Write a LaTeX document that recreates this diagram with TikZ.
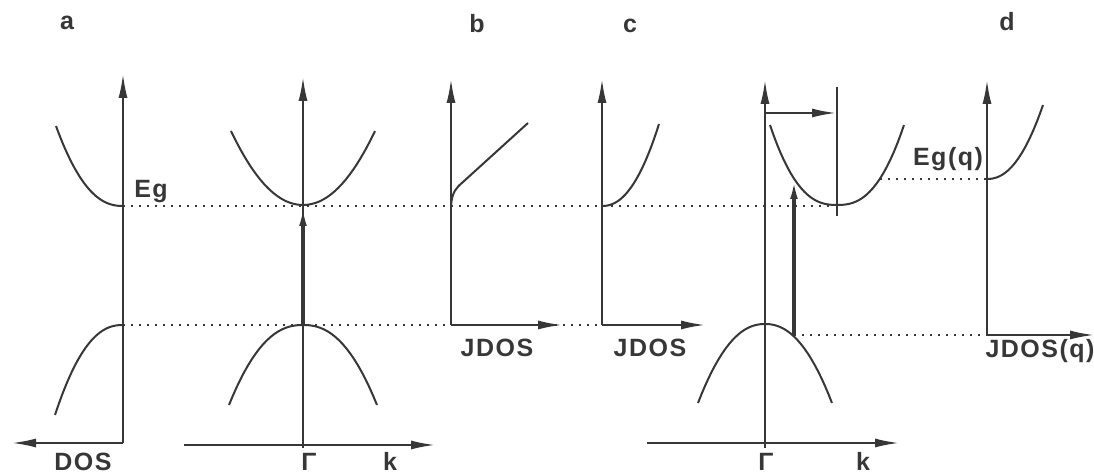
\documentclass[tikz,border=0pt]{standalone}
\usepackage{fontspec}
\setmainfont{Liberation Sans}
\usetikzlibrary{arrows.meta}
\definecolor{ink}{RGB}{55,55,55}
\tikzset{
  axis/.style={draw=ink,line width=1pt,-{Latex[length=12pt,width=4.5pt]}},
  band/.style={draw=ink,line width=1pt},
  level/.style={draw=ink,line width=0.8pt,dash pattern=on 1pt off 3pt},
  trans/.style={draw=ink,line width=1.6pt,-{Latex[length=10pt,width=3.8pt]}},
  lab/.style={text=ink,inner sep=0pt,anchor=base,
    font=\bfseries\fontsize{12.5}{14}\selectfont\addfontfeature{LetterSpace=6}},
}
\begin{document}
\begin{tikzpicture}[x=0.5pt,y=-0.5pt]
    \useasboundingbox (0,0) rectangle (1094,474);
    % energy levels
    \coordinate (EgL) at (123,206); \coordinate (EgR) at (830,206);
    \coordinate (EvL) at (123,325); \coordinate (EvR) at (602,325);
    \draw[level] (EgL)--(EgR); \draw[level] (EvL)--(EvR);
    % a: DOS and bands
    \coordinate (aO) at (123,443); \coordinate (aE) at (123,74); \coordinate (aD) at (12,443);
    \draw[axis] (aO)--(aE); \draw[axis] (aO)--(aD);
    \draw[band] plot[variable=\t,domain=0.001:1,samples=30] ({123-67*\t},{206-80*\t^2.3});
    \draw[band] plot[variable=\t,domain=0.001:1,samples=30] ({123-68*\t},{325+90*\t^2.3});
    \coordinate (kB) at (303,448); \coordinate (kT) at (303,77);
    \coordinate (kL) at (184,445); \coordinate (kR) at (435,445);
    \draw[axis] (kB)--(kT); \draw[axis] (kL)--(kR);
    % b and c: JDOS
    \coordinate (bO) at (451,325); \coordinate (bT) at (451,79); \coordinate (bR) at (562,325);
    \draw[axis] (bO)--(bT); \draw[axis] (bO)--(bR);
    \draw[band] (451,206) .. controls (452,192) and (456,188) .. (463,182) -- (528,123);
    \coordinate (cO) at (602,325); \coordinate (cT) at (602,79); \coordinate (cR) at (705,325);
    \draw[axis] (cO)--(cT); \draw[axis] (cO)--(cR);
    \draw[band] plot[variable=\t,domain=0.001:1,samples=30] ({602+57*\t},{206-82*\t^2.2});
    % c: shifted bands
    \coordinate (qB) at (765,448); \coordinate (qT) at (765,80);
    \coordinate (qL) at (647,443); \coordinate (qR) at (899,443);
    \draw[axis] (qB)--(qT); \draw[axis] (qL)--(qR);
    \coordinate (sT) at (837,87); \coordinate (sB) at (837,216);
    \draw[band] (sT)--(sB);
    \coordinate (hL) at (765,113); \coordinate (hR) at (836,113);
    \draw[axis] (hL)--(hR);
    \foreach \cx/\cy/\w/\h/\p in {303/205/72/-74/2.05, 303/325/74/80/2.3, 837/205/67/-80/2.5, 765/324/67/79/2.2}
        \draw[band] plot[variable=\t,domain=-1:1,samples=40] ({\cx+\w*\t},{\cy+\h*abs(\t)^\p});
    % transitions
    \coordinate (vA) at (303,325); \coordinate (cA) at (303,206);
    \draw[trans] (vA)--(cA);
    \coordinate (vQ) at (794,335); \coordinate (cQ) at (794,179);
    \draw[trans] (vQ)--(cQ);
    % d: JDOS(q)
    \coordinate (dO) at (987,335); \coordinate (dT) at (987,80); \coordinate (dR) at (1094,335);
    \coordinate (gQ) at (880,179); \coordinate (gD) at (987,179);
    \draw[level] (gQ)--(gD); \draw[level] (vQ)--(dO);
    \draw[axis] (dO)--(dT); \draw[axis] (dO)--(dR);
    \draw[band] plot[variable=\t,domain=0.001:1,samples=30] ({987+56*\t},{179-74*\t^2.2});
    % labels
    \node[lab] (la) at (67,30) {a};
    \node[lab] (lb) at (477,33) {b};
    \node[lab] (lc) at (630,33) {c};
    \node[lab] (ld) at (1007,31) {d};
    \node[lab] (eg) at (151,198) {Eg};
    \node[lab] (egq) at (948,166) {Eg(q)};
    \node[lab] (dos) at (83,471) {DOS};
    \node[lab] (jb) at (497,357) {JDOS};
    \node[lab] (jc) at (650,357) {JDOS};
    \node[lab] (jd) at (1040,358) {JDOS(q)};
    \node[lab] (ga) at (309,471) {Γ};
    \node[lab] (ka) at (390,471) {k};
    \node[lab] (gc) at (766,471) {Γ};
    \node[lab] (kc) at (863,471) {k};
\end{tikzpicture}
\end{document}
